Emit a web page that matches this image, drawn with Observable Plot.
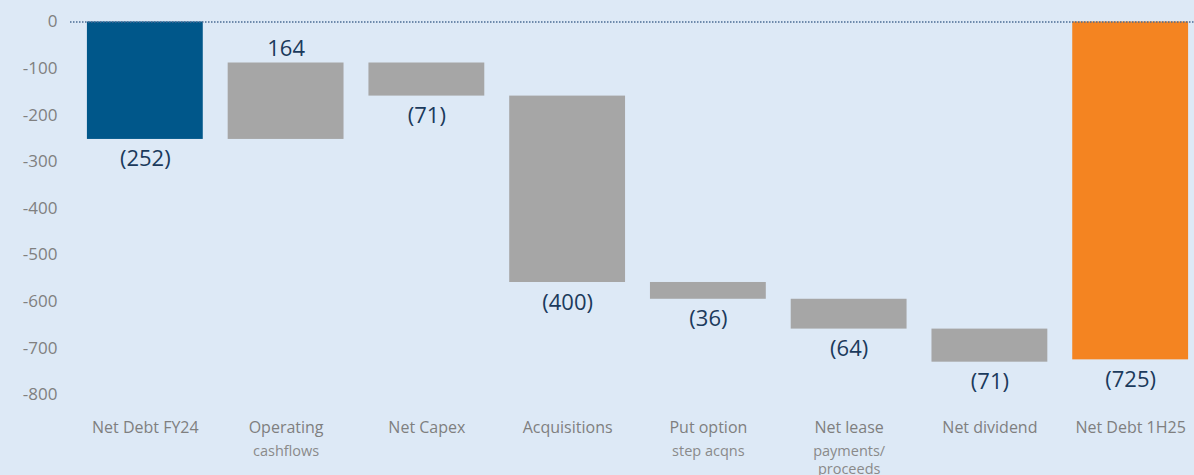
<!DOCTYPE html>
<html><head><meta charset="utf-8">
<script src="https://cdn.jsdelivr.net/npm/d3@7"></script>
<script src="https://cdn.jsdelivr.net/npm/@observablehq/plot@0.6"></script>
<style>html,body{margin:0;padding:0;background:#dde9f6;}</style>
</head><body><div id="chart"></div>
<script>
const categories = ["Net Debt FY24","Operating cashflows","Net Capex","Acquisitions","Put option step acqns","Net lease payments/ proceeds","Net dividend","Net Debt 1H25"];
const labelLine1 = ["Net Debt FY24","Operating","Net Capex","Acquisitions","Put option","Net lease","Net dividend","Net Debt 1H25"];
const labelRest = ["","cashflows","","","step acqns","payments/\nproceeds","",""];
const values = [-252,164,-71,-400,-36,-64,-71,-725];
const kinds = ["start","delta","delta","delta","delta","delta","delta","end"];
const valueLabels = ["(252)","164","(71)","(400)","(36)","(64)","(71)","(725)"];
const yTicks = [0,-100,-200,-300,-400,-500,-600,-700,-800];
const kindColors = {start:"#00578a", delta:"#a6a6a6", end:"#f48421"};

let running = 0;
const rows = categories.map((cat,i) => {
  const v = values[i];
  let y1, y2;
  if (kinds[i] === "delta") { y1 = running; y2 = running + v; running += v; }
  else { y1 = 0; y2 = v; running = v; }
  return {cat, y1, y2, top: Math.max(y1,y2), bottom: Math.min(y1,y2), v, label: valueLabels[i], color: kindColors[kinds[i]]};
});
const idx = c => categories.indexOf(c);

const chart = Plot.plot({
  width: 1194, height: 475,
  marginTop: 21.5, marginBottom: 80.7, marginLeft: 70, marginRight: 0,
  style: {background: "#dde9f6", fontFamily: "'Open Sans', sans-serif", overflow: "visible"},
  x: {domain: categories, range: [62, 1213], padding: 0.177, round: false, axis: null},
  y: {domain: [-800, 0], axis: null},
  color: {type: "identity"},
  marks: [
    Plot.barY(rows, {x: "cat", y1: "y1", y2: "y2", fill: "color"}),
    Plot.ruleY([0], {stroke: "#4a6c94", strokeWidth: 1.5, strokeDasharray: "1.5,1.5"}),
    Plot.axisY({ticks: yTicks, tickSize: 0, tickPadding: 13, fontSize: 17, color: "#808080", tickFormat: d => String(d), label: null}),
    Plot.axisX({tickSize: 0, tickPadding: 27, fontSize: 16, color: "#7f7f7f", tickFormat: d => labelLine1[idx(d)], label: null}),
    Plot.axisX({tickSize: 0, tickPadding: 48, fontSize: 14.5, lineHeight: 1.25, color: "#8a8a8a", tickFormat: d => labelRest[idx(d)], label: null}),
    Plot.text(rows.filter(d => d.v < 0), {x: "cat", y: "bottom", text: "label", dy: 20, fontSize: 22, fill: "#1b3a5c", lineAnchor: "middle"}),
    Plot.text(rows.filter(d => d.v >= 0), {x: "cat", y: "top", text: "label", dy: -14, fontSize: 22, fill: "#1b3a5c", lineAnchor: "middle"})
  ]
});
document.getElementById("chart").appendChild(chart);
</script>
</body></html>
